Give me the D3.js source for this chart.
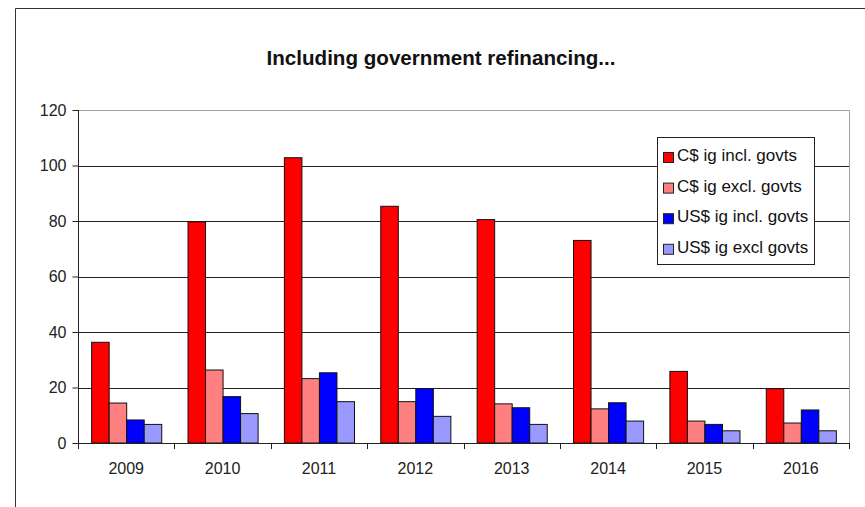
<!DOCTYPE html>
<html>
<head>
<meta charset="utf-8">
<script src="https://cdn.jsdelivr.net/npm/d3@7"></script>
<style>
  body { margin: 0; background: #fff; }
  svg { display: block; font-family: "Liberation Sans", Arial, sans-serif; }
</style>
</head>
<body>
<svg width="865" height="507"></svg>
<script>
var years = ["2009", "2010", "2011", "2012", "2013", "2014", "2015", "2016"];
var seriesNames = ["C$ ig incl. govts", "C$ ig excl. govts", "US$ ig incl. govts", "US$ ig excl govts"];
var seriesColors = ["#ff0000", "#ff8080", "#0000ff", "#9999ff"];
var cadIncl = [36.3, 79.7, 102.8, 85.3, 80.5, 73.0, 25.8, 19.6];
var cadExcl = [14.4, 26.3, 23.2, 14.9, 14.1, 12.3, 7.9, 7.2];
var usdIncl = [8.3, 16.7, 25.3, 19.6, 12.7, 14.5, 6.7, 11.9];
var usdExcl = [6.7, 10.6, 14.9, 9.6, 6.7, 7.9, 4.4, 4.4];
var yTicks = [0, 20, 40, 60, 80, 100, 120];

var allSeries = [cadIncl, cadExcl, usdIncl, usdExcl];

var svg = d3.select("svg");

// outer chart frame (runs off the picture at right and bottom)
svg.append("path")
    .attr("d", "M15.5,520V8.5H880")
    .attr("fill", "none")
    .attr("stroke", "#333")
    .attr("stroke-width", 1);

var pLeft = 78, pRight = 849, pTop = 110, pBottom = 443;

var x = d3.scaleBand().domain(years).range([pLeft, pRight]).paddingInner(0).paddingOuter(0);
// gap width 150% => 4 bars + 1.5 bar widths of gap per category
var bw = x.bandwidth() / 5.5;
var y = d3.scaleLinear().domain([0, 120]).range([pBottom, pTop]);

// grid lines
svg.append("g").selectAll("line")
    .data(yTicks.filter(function(d) { return d > 0 && d < 120; }))
    .enter().append("line")
    .attr("x1", pLeft).attr("x2", pRight)
    .attr("y1", function(d) { return Math.round(y(d)) + 0.5; })
    .attr("y2", function(d) { return Math.round(y(d)) + 0.5; })
    .attr("stroke", "#222");

// plot area border (top & right grey)
svg.append("path")
    .attr("d", "M" + pLeft + "," + (pTop + 0.5) + "H" + (pRight + 0.5) + "V" + pBottom)
    .attr("fill", "none")
    .attr("stroke", "#a0a0a0");

// bars
var groups = svg.append("g").selectAll("g")
    .data(years)
    .enter().append("g")
    .attr("transform", function(d) { return "translate(" + x(d) + ",0)"; });

groups.selectAll("rect")
    .data(function(d, i) { return allSeries.map(function(s, k) { return { k: k, v: s[i] }; }); })
    .enter().append("rect")
    .attr("x", function(d) { return bw * 0.75 + d.k * bw + 0.5; })
    .attr("width", bw)
    .attr("y", function(d) { return y(d.v); })
    .attr("height", function(d) { return y(0) - y(d.v); })
    .attr("fill", function(d) { return seriesColors[d.k]; })
    .attr("stroke", "#111")
    .attr("stroke-width", 1);

// y axis
var yAxis = svg.append("g")
    .attr("transform", "translate(" + (pLeft + 0.5) + ",0)")
    .call(d3.axisLeft(y).tickValues(yTicks).tickSize(6).tickPadding(6));
yAxis.select(".domain").attr("stroke", "#222").attr("d", "M0," + pTop + "V" + pBottom);
yAxis.selectAll(".tick line").attr("stroke", "#222");
yAxis.selectAll("text")
    .attr("font-size", 16)
    .attr("font-family", "Liberation Sans, Arial, sans-serif")
    .attr("fill", "#222");

// x axis
var xAxis = svg.append("g")
    .attr("transform", "translate(0," + (pBottom + 0.5) + ")")
    .call(d3.axisBottom(x).tickSize(0).tickPadding(19));
xAxis.select(".domain").attr("stroke", "#222").attr("d", "M" + pLeft + ",0H" + pRight);
xAxis.selectAll("text")
    .attr("font-size", 16)
    .attr("font-family", "Liberation Sans, Arial, sans-serif")
    .attr("fill", "#222");
// category boundary ticks
svg.append("g").selectAll("line")
    .data(years.concat(["end"]))
    .enter().append("line")
    .attr("x1", function(d, i) { return Math.round(pLeft + i * x.step()) + 0.5; })
    .attr("x2", function(d, i) { return Math.round(pLeft + i * x.step()) + 0.5; })
    .attr("y1", pBottom).attr("y2", pBottom + 6)
    .attr("stroke", "#222");

// title
svg.append("text")
    .attr("x", 441)
    .attr("y", 65)
    .attr("text-anchor", "middle")
    .attr("font-size", 21)
    .attr("font-weight", "bold")
    .attr("fill", "#111")
    .attr("textLength", 349)
    .attr("lengthAdjust", "spacingAndGlyphs")
    .text("Including government refinancing...");

// legend
var lg = svg.append("g").attr("transform", "translate(657,137)");
lg.append("rect")
    .attr("x", 0.5).attr("y", 0.5)
    .attr("width", 157).attr("height", 127)
    .attr("fill", "#fff")
    .attr("stroke", "#222");
var items = lg.selectAll("g.item")
    .data(seriesNames)
    .enter().append("g")
    .attr("class", "item")
    .attr("transform", function(d, i) { return "translate(0," + (17 + i * 30.6) + ")"; });
items.append("rect")
    .attr("x", 6.5).attr("y", -1.5)
    .attr("width", 10).attr("height", 10)
    .attr("fill", function(d, i) { return seriesColors[i]; })
    .attr("stroke", "#222");
items.append("text")
    .attr("x", 20)
    .attr("y", 7)
    .attr("font-size", 17)
    .attr("fill", "#111")
    .text(function(d) { return d; });
</script>
</body>
</html>
